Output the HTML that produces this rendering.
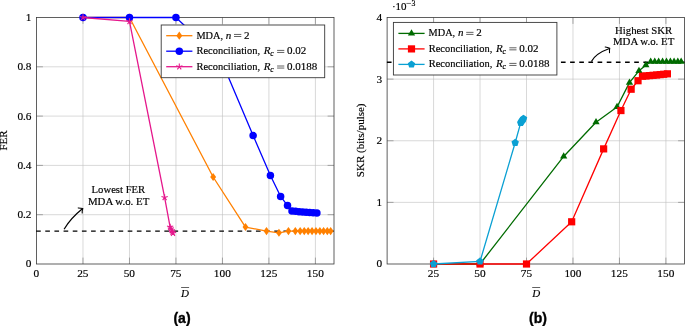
<!DOCTYPE html><html><head><meta charset="utf-8"><style>html,body{margin:0;padding:0;background:#fff;}svg{display:block;}text{font-family:"Liberation Serif", serif;font-size:11px;fill:#000;stroke:#000;stroke-width:0.18px;}.cap{font-family:"Liberation Sans", sans-serif;font-weight:bold;font-size:14px;stroke:#000;stroke-width:0.35px;}</style></head><body>
<svg width="685" height="326" viewBox="0 0 685 326">
<rect width="685" height="326" fill="#fff"/>
<line x1="82.98" y1="17.5" x2="82.98" y2="264" stroke="#bfbfbf" stroke-width="0.6"/>
<line x1="129.47" y1="17.5" x2="129.47" y2="264" stroke="#bfbfbf" stroke-width="0.6"/>
<line x1="175.95" y1="17.5" x2="175.95" y2="264" stroke="#bfbfbf" stroke-width="0.6"/>
<line x1="222.44" y1="17.5" x2="222.44" y2="264" stroke="#bfbfbf" stroke-width="0.6"/>
<line x1="268.92" y1="17.5" x2="268.92" y2="264" stroke="#bfbfbf" stroke-width="0.6"/>
<line x1="315.41" y1="17.5" x2="315.41" y2="264" stroke="#bfbfbf" stroke-width="0.6"/>
<line x1="36.5" y1="214.7" x2="334" y2="214.7" stroke="#bfbfbf" stroke-width="0.6"/>
<line x1="36.5" y1="165.4" x2="334" y2="165.4" stroke="#bfbfbf" stroke-width="0.6"/>
<line x1="36.5" y1="116.1" x2="334" y2="116.1" stroke="#bfbfbf" stroke-width="0.6"/>
<line x1="36.5" y1="66.8" x2="334" y2="66.8" stroke="#bfbfbf" stroke-width="0.6"/>
<line x1="82.98" y1="264" x2="82.98" y2="257.6" stroke="#777" stroke-width="0.6"/>
<line x1="82.98" y1="17.5" x2="82.98" y2="23.9" stroke="#777" stroke-width="0.6"/>
<line x1="129.47" y1="264" x2="129.47" y2="257.6" stroke="#777" stroke-width="0.6"/>
<line x1="129.47" y1="17.5" x2="129.47" y2="23.9" stroke="#777" stroke-width="0.6"/>
<line x1="175.95" y1="264" x2="175.95" y2="257.6" stroke="#777" stroke-width="0.6"/>
<line x1="175.95" y1="17.5" x2="175.95" y2="23.9" stroke="#777" stroke-width="0.6"/>
<line x1="222.44" y1="264" x2="222.44" y2="257.6" stroke="#777" stroke-width="0.6"/>
<line x1="222.44" y1="17.5" x2="222.44" y2="23.9" stroke="#777" stroke-width="0.6"/>
<line x1="268.92" y1="264" x2="268.92" y2="257.6" stroke="#777" stroke-width="0.6"/>
<line x1="268.92" y1="17.5" x2="268.92" y2="23.9" stroke="#777" stroke-width="0.6"/>
<line x1="315.41" y1="264" x2="315.41" y2="257.6" stroke="#777" stroke-width="0.6"/>
<line x1="315.41" y1="17.5" x2="315.41" y2="23.9" stroke="#777" stroke-width="0.6"/>
<line x1="36.5" y1="214.7" x2="42.9" y2="214.7" stroke="#777" stroke-width="0.6"/>
<line x1="334" y1="214.7" x2="327.6" y2="214.7" stroke="#777" stroke-width="0.6"/>
<line x1="36.5" y1="165.4" x2="42.9" y2="165.4" stroke="#777" stroke-width="0.6"/>
<line x1="334" y1="165.4" x2="327.6" y2="165.4" stroke="#777" stroke-width="0.6"/>
<line x1="36.5" y1="116.1" x2="42.9" y2="116.1" stroke="#777" stroke-width="0.6"/>
<line x1="334" y1="116.1" x2="327.6" y2="116.1" stroke="#777" stroke-width="0.6"/>
<line x1="36.5" y1="66.8" x2="42.9" y2="66.8" stroke="#777" stroke-width="0.6"/>
<line x1="334" y1="66.8" x2="327.6" y2="66.8" stroke="#777" stroke-width="0.6"/>
<rect x="36.5" y="17.5" width="297.5" height="246.5" fill="none" stroke="#383838" stroke-width="0.8"/>
<line x1="36.1" y1="231.1" x2="334" y2="231.1" stroke="#000" stroke-width="1.35" stroke-dasharray="4.65 4.51"/>
<path d="M64.1 229.2 Q70.6 218.3 82.4 208.8" fill="none" stroke="#000" stroke-width="1.25"/>
<path d="M78.2 207.9 Q81 208.1 82.9 208.4 Q82.1 210.4 82.2 213" fill="none" stroke="#000" stroke-width="1.05" stroke-linejoin="round" stroke-linecap="round"/>
<polyline points="82.98,17.5 129.47,17.5 213.14,176.99 245.49,227.03 266.5,231.07 278.96,232.77 288.45,231.09 295.32,231.09 300.16,231.09 304.25,231.09 308.15,231.09 312.06,231.09 315.96,231.09 319.87,231.09 323.59,231.09 327.31,231.09 330.65,231.09" fill="none" stroke="#ff8000" stroke-width="1.3" stroke-linejoin="round"/>
<path d="M82.98 13.4L85.93 17.5L82.98 21.6L80.03 17.5Z" fill="#ff8000"/>
<path d="M129.47 13.4L132.42 17.5L129.47 21.6L126.52 17.5Z" fill="#ff8000"/>
<path d="M213.14 172.89L216.09 176.99L213.14 181.09L210.19 176.99Z" fill="#ff8000"/>
<path d="M245.49 222.93L248.44 227.03L245.49 231.12L242.54 227.03Z" fill="#ff8000"/>
<path d="M266.5 226.97L269.45 231.07L266.5 235.17L263.55 231.07Z" fill="#ff8000"/>
<path d="M278.96 228.67L281.91 232.77L278.96 236.87L276.01 232.77Z" fill="#ff8000"/>
<path d="M288.45 226.99L291.4 231.09L288.45 235.19L285.5 231.09Z" fill="#ff8000"/>
<path d="M295.32 226.99L298.27 231.09L295.32 235.19L292.38 231.09Z" fill="#ff8000"/>
<path d="M300.16 226.99L303.11 231.09L300.16 235.19L297.21 231.09Z" fill="#ff8000"/>
<path d="M304.25 226.99L307.2 231.09L304.25 235.19L301.3 231.09Z" fill="#ff8000"/>
<path d="M308.15 226.99L311.1 231.09L308.15 235.19L305.2 231.09Z" fill="#ff8000"/>
<path d="M312.06 226.99L315.01 231.09L312.06 235.19L309.11 231.09Z" fill="#ff8000"/>
<path d="M315.96 226.99L318.91 231.09L315.96 235.19L313.01 231.09Z" fill="#ff8000"/>
<path d="M319.87 226.99L322.82 231.09L319.87 235.19L316.92 231.09Z" fill="#ff8000"/>
<path d="M323.59 226.99L326.54 231.09L323.59 235.19L320.64 231.09Z" fill="#ff8000"/>
<path d="M327.31 226.99L330.26 231.09L327.31 235.19L324.36 231.09Z" fill="#ff8000"/>
<path d="M330.65 226.99L333.6 231.09L330.65 235.19L327.7 231.09Z" fill="#ff8000"/>
<polyline points="82.98,17.5 129.47,17.5 175.95,17.5 221.14,59.9 253.12,135.57 270.41,175.51 280.64,196.46 287.52,205.58 291.98,211 295.51,211.37 299.04,211.74 302.58,211.99 306.11,212.24 309.64,212.48 313.18,212.73 316.89,213.02" fill="none" stroke="#0000ff" stroke-width="1.3" stroke-linejoin="round"/>
<circle cx="82.98" cy="17.5" r="3.75" fill="#0000ff"/>
<circle cx="129.47" cy="17.5" r="3.75" fill="#0000ff"/>
<circle cx="175.95" cy="17.5" r="3.75" fill="#0000ff"/>
<circle cx="221.14" cy="59.9" r="3.75" fill="#0000ff"/>
<circle cx="253.12" cy="135.57" r="3.75" fill="#0000ff"/>
<circle cx="270.41" cy="175.51" r="3.75" fill="#0000ff"/>
<circle cx="280.64" cy="196.46" r="3.75" fill="#0000ff"/>
<circle cx="287.52" cy="205.58" r="3.75" fill="#0000ff"/>
<circle cx="291.98" cy="211" r="3.75" fill="#0000ff"/>
<circle cx="295.51" cy="211.37" r="3.75" fill="#0000ff"/>
<circle cx="299.04" cy="211.74" r="3.75" fill="#0000ff"/>
<circle cx="302.58" cy="211.99" r="3.75" fill="#0000ff"/>
<circle cx="306.11" cy="212.24" r="3.75" fill="#0000ff"/>
<circle cx="309.64" cy="212.48" r="3.75" fill="#0000ff"/>
<circle cx="313.18" cy="212.73" r="3.75" fill="#0000ff"/>
<circle cx="316.89" cy="213.02" r="3.75" fill="#0000ff"/>
<polyline points="82.98,17.5 129.47,21.44 164.61,197.44 170.13,227.03 170.93,228.75 171.68,230.48 172.42,231.95 172.98,233.19" fill="none" stroke="#e5188c" stroke-width="1.3" stroke-linejoin="round"/>
<path d="M82.98 17.5L82.98 14.2M82.98 17.5L79.85 16.48M82.98 17.5L81.04 20.17M82.98 17.5L84.92 20.17M82.98 17.5L86.12 16.48" stroke="#e5188c" stroke-width="1.1" fill="none"/>
<path d="M129.47 21.44L129.47 18.14M129.47 21.44L126.33 20.42M129.47 21.44L127.53 24.11M129.47 21.44L131.41 24.11M129.47 21.44L132.61 20.42" stroke="#e5188c" stroke-width="1.1" fill="none"/>
<path d="M164.61 197.44L164.61 194.14M164.61 197.44L161.47 196.43M164.61 197.44L162.67 200.11M164.61 197.44L166.55 200.11M164.61 197.44L167.75 196.43" stroke="#e5188c" stroke-width="1.1" fill="none"/>
<path d="M170.13 227.03L170.13 223.72M170.13 227.03L166.99 226.01M170.13 227.03L168.19 229.69M170.13 227.03L172.07 229.69M170.13 227.03L173.27 226.01" stroke="#e5188c" stroke-width="1.1" fill="none"/>
<path d="M170.93 228.75L170.93 225.45M170.93 228.75L167.79 227.73M170.93 228.75L168.99 231.42M170.93 228.75L172.87 231.42M170.93 228.75L174.07 227.73" stroke="#e5188c" stroke-width="1.1" fill="none"/>
<path d="M171.68 230.48L171.68 227.18M171.68 230.48L168.54 229.46M171.68 230.48L169.74 233.15M171.68 230.48L173.62 233.15M171.68 230.48L174.82 229.46" stroke="#e5188c" stroke-width="1.1" fill="none"/>
<path d="M172.42 231.95L172.42 228.65M172.42 231.95L169.28 230.94M172.42 231.95L170.48 234.62M172.42 231.95L174.36 234.62M172.42 231.95L175.56 230.94" stroke="#e5188c" stroke-width="1.1" fill="none"/>
<path d="M172.98 233.19L172.98 229.89M172.98 233.19L169.84 232.17M172.98 233.19L171.04 235.86M172.98 233.19L174.92 235.86M172.98 233.19L176.12 232.17" stroke="#e5188c" stroke-width="1.1" fill="none"/>
<rect x="161.2" y="25" width="163.5" height="52.7" fill="#fff" stroke="#383838" stroke-width="0.9"/>
<line x1="166.2" y1="35.7" x2="192.4" y2="35.7" stroke="#ff8000" stroke-width="1.3"/>
<path d="M179.3 31.6L182.25 35.7L179.3 39.8L176.35 35.7Z" fill="#ff8000"/>
<line x1="234" y1="34.45" x2="241.3" y2="34.45" stroke="#000" stroke-width="0.62"/>
<line x1="234" y1="36.5" x2="241.3" y2="36.5" stroke="#000" stroke-width="0.62"/>
<line x1="166.2" y1="51.2" x2="192.4" y2="51.2" stroke="#0000ff" stroke-width="1.3"/>
<circle cx="179.3" cy="51.2" r="3.75" fill="#0000ff"/>
<line x1="277.1" y1="50.4" x2="284.3" y2="50.4" stroke="#000" stroke-width="0.62"/>
<line x1="277.1" y1="52.45" x2="284.3" y2="52.45" stroke="#000" stroke-width="0.62"/>
<line x1="166.2" y1="66.7" x2="192.4" y2="66.7" stroke="#e5188c" stroke-width="1.3"/>
<path d="M179.3 66.7L179.3 63.4M179.3 66.7L176.16 65.68M179.3 66.7L177.36 69.37M179.3 66.7L181.24 69.37M179.3 66.7L182.44 65.68" stroke="#e5188c" stroke-width="1.1" fill="none"/>
<line x1="277.1" y1="66" x2="284.3" y2="66" stroke="#000" stroke-width="0.62"/>
<line x1="277.1" y1="68.05" x2="284.3" y2="68.05" stroke="#000" stroke-width="0.62"/>
<line x1="181.1" y1="287.5" x2="189.1" y2="287.5" stroke="#000" stroke-width="0.62"/>
<line x1="433.57" y1="17.5" x2="433.57" y2="264" stroke="#bfbfbf" stroke-width="0.6"/>
<line x1="480.04" y1="17.5" x2="480.04" y2="264" stroke="#bfbfbf" stroke-width="0.6"/>
<line x1="526.51" y1="17.5" x2="526.51" y2="264" stroke="#bfbfbf" stroke-width="0.6"/>
<line x1="572.98" y1="17.5" x2="572.98" y2="264" stroke="#bfbfbf" stroke-width="0.6"/>
<line x1="619.44" y1="17.5" x2="619.44" y2="264" stroke="#bfbfbf" stroke-width="0.6"/>
<line x1="665.91" y1="17.5" x2="665.91" y2="264" stroke="#bfbfbf" stroke-width="0.6"/>
<line x1="387.1" y1="202.38" x2="684.5" y2="202.38" stroke="#bfbfbf" stroke-width="0.6"/>
<line x1="387.1" y1="140.75" x2="684.5" y2="140.75" stroke="#bfbfbf" stroke-width="0.6"/>
<line x1="387.1" y1="79.12" x2="684.5" y2="79.12" stroke="#bfbfbf" stroke-width="0.6"/>
<line x1="433.57" y1="264" x2="433.57" y2="257.6" stroke="#777" stroke-width="0.6"/>
<line x1="433.57" y1="17.5" x2="433.57" y2="23.9" stroke="#777" stroke-width="0.6"/>
<line x1="480.04" y1="264" x2="480.04" y2="257.6" stroke="#777" stroke-width="0.6"/>
<line x1="480.04" y1="17.5" x2="480.04" y2="23.9" stroke="#777" stroke-width="0.6"/>
<line x1="526.51" y1="264" x2="526.51" y2="257.6" stroke="#777" stroke-width="0.6"/>
<line x1="526.51" y1="17.5" x2="526.51" y2="23.9" stroke="#777" stroke-width="0.6"/>
<line x1="572.98" y1="264" x2="572.98" y2="257.6" stroke="#777" stroke-width="0.6"/>
<line x1="572.98" y1="17.5" x2="572.98" y2="23.9" stroke="#777" stroke-width="0.6"/>
<line x1="619.44" y1="264" x2="619.44" y2="257.6" stroke="#777" stroke-width="0.6"/>
<line x1="619.44" y1="17.5" x2="619.44" y2="23.9" stroke="#777" stroke-width="0.6"/>
<line x1="665.91" y1="264" x2="665.91" y2="257.6" stroke="#777" stroke-width="0.6"/>
<line x1="665.91" y1="17.5" x2="665.91" y2="23.9" stroke="#777" stroke-width="0.6"/>
<line x1="387.1" y1="202.38" x2="393.5" y2="202.38" stroke="#777" stroke-width="0.6"/>
<line x1="684.5" y1="202.38" x2="678.1" y2="202.38" stroke="#777" stroke-width="0.6"/>
<line x1="387.1" y1="140.75" x2="393.5" y2="140.75" stroke="#777" stroke-width="0.6"/>
<line x1="684.5" y1="140.75" x2="678.1" y2="140.75" stroke="#777" stroke-width="0.6"/>
<line x1="387.1" y1="79.12" x2="393.5" y2="79.12" stroke="#777" stroke-width="0.6"/>
<line x1="684.5" y1="79.12" x2="678.1" y2="79.12" stroke="#777" stroke-width="0.6"/>
<rect x="387.1" y="17.5" width="297.4" height="246.5" fill="none" stroke="#383838" stroke-width="0.8"/>
<line x1="386.9" y1="62.2" x2="684.5" y2="62.2" stroke="#000" stroke-width="1.35" stroke-dasharray="4.65 4.51"/>
<path d="M591.4 61.5 Q595.5 53.5 609.4 48.5" fill="none" stroke="#000" stroke-width="1.25"/>
<path d="M605.2 47 Q607.6 47.6 609.8 48.2 Q609.2 50.4 609.5 52.8" fill="none" stroke="#000" stroke-width="1.05" stroke-linejoin="round" stroke-linecap="round"/>
<polyline points="433.57,264 480.04,264 563.68,156.46 596.02,122.26 617.03,106.98 629.48,82.64 638.96,70.87 645.84,65.26 650.67,61.75 654.76,61.75 658.66,61.75 662.57,61.75 666.47,61.75 670.37,61.75 674.09,61.75 677.81,61.75 681.15,61.75" fill="none" stroke="#006b00" stroke-width="1.3" stroke-linejoin="round"/>
<polygon points="433.57,259.8 429.93,266.1 437.21,266.1" fill="#006b00"/>
<polygon points="480.04,259.8 476.4,266.1 483.67,266.1" fill="#006b00"/>
<polygon points="563.68,152.26 560.04,158.56 567.32,158.56" fill="#006b00"/>
<polygon points="596.02,118.06 592.39,124.36 599.66,124.36" fill="#006b00"/>
<polygon points="617.03,102.78 613.39,109.08 620.66,109.08" fill="#006b00"/>
<polygon points="629.48,78.44 625.84,84.74 633.12,84.74" fill="#006b00"/>
<polygon points="638.96,66.67 635.32,72.97 642.6,72.97" fill="#006b00"/>
<polygon points="645.84,61.06 642.2,67.36 649.48,67.36" fill="#006b00"/>
<polygon points="650.67,57.55 647.03,63.85 654.31,63.85" fill="#006b00"/>
<polygon points="654.76,57.55 651.12,63.85 658.4,63.85" fill="#006b00"/>
<polygon points="658.66,57.55 655.03,63.85 662.3,63.85" fill="#006b00"/>
<polygon points="662.57,57.55 658.93,63.85 666.2,63.85" fill="#006b00"/>
<polygon points="666.47,57.55 662.83,63.85 670.11,63.85" fill="#006b00"/>
<polygon points="670.37,57.55 666.74,63.85 674.01,63.85" fill="#006b00"/>
<polygon points="674.09,57.55 670.45,63.85 677.73,63.85" fill="#006b00"/>
<polygon points="677.81,57.55 674.17,63.85 681.45,63.85" fill="#006b00"/>
<polygon points="681.15,57.55 677.52,63.85 684.79,63.85" fill="#006b00"/>
<polyline points="433.57,264 480.04,264 526.51,264 571.67,221.79 603.64,148.88 620.93,110.55 631.15,89.23 638.03,80.73 642.49,76.23 646.02,75.92 649.56,75.61 653.09,75.3 656.62,75 660.15,74.63 663.68,74.26 667.4,73.83" fill="none" stroke="#ff0000" stroke-width="1.3" stroke-linejoin="round"/>
<rect x="429.97" y="260.4" width="7.2" height="7.2" fill="#ff0000"/>
<rect x="476.44" y="260.4" width="7.2" height="7.2" fill="#ff0000"/>
<rect x="522.91" y="260.4" width="7.2" height="7.2" fill="#ff0000"/>
<rect x="568.07" y="218.19" width="7.2" height="7.2" fill="#ff0000"/>
<rect x="600.04" y="145.28" width="7.2" height="7.2" fill="#ff0000"/>
<rect x="617.33" y="106.95" width="7.2" height="7.2" fill="#ff0000"/>
<rect x="627.55" y="85.63" width="7.2" height="7.2" fill="#ff0000"/>
<rect x="634.43" y="77.13" width="7.2" height="7.2" fill="#ff0000"/>
<rect x="638.89" y="72.63" width="7.2" height="7.2" fill="#ff0000"/>
<rect x="642.42" y="72.32" width="7.2" height="7.2" fill="#ff0000"/>
<rect x="645.96" y="72.01" width="7.2" height="7.2" fill="#ff0000"/>
<rect x="649.49" y="71.7" width="7.2" height="7.2" fill="#ff0000"/>
<rect x="653.02" y="71.4" width="7.2" height="7.2" fill="#ff0000"/>
<rect x="656.55" y="71.03" width="7.2" height="7.2" fill="#ff0000"/>
<rect x="660.08" y="70.66" width="7.2" height="7.2" fill="#ff0000"/>
<rect x="663.8" y="70.23" width="7.2" height="7.2" fill="#ff0000"/>
<polyline points="433.57,264 480.04,261.41 515.17,142.72 520.69,122.88 521.49,121.65 522.23,120.41 522.97,119.49 523.53,118.56" fill="none" stroke="#0aa0d3" stroke-width="1.3" stroke-linejoin="round"/>
<polygon points="433.57,260.1 429.86,262.79 431.28,267.16 435.86,267.16 437.28,262.79" fill="#0aa0d3"/>
<polygon points="480.04,257.51 476.33,260.21 477.75,264.57 482.33,264.57 483.75,260.21" fill="#0aa0d3"/>
<polygon points="515.17,138.82 511.46,141.52 512.88,145.88 517.46,145.88 518.88,141.52" fill="#0aa0d3"/>
<polygon points="520.69,118.98 516.98,121.67 518.4,126.03 522.98,126.03 524.4,121.67" fill="#0aa0d3"/>
<polygon points="521.49,117.75 517.78,120.44 519.2,124.8 523.78,124.8 525.2,120.44" fill="#0aa0d3"/>
<polygon points="522.23,116.51 518.52,119.21 519.94,123.57 524.52,123.57 525.94,119.21" fill="#0aa0d3"/>
<polygon points="522.97,115.59 519.27,118.28 520.68,122.64 525.27,122.64 526.68,118.28" fill="#0aa0d3"/>
<polygon points="523.53,114.66 519.82,117.36 521.24,121.72 525.82,121.72 527.24,117.36" fill="#0aa0d3"/>
<rect x="393.4" y="22.4" width="163.5" height="52.6" fill="#fff" stroke="#383838" stroke-width="0.9"/>
<line x1="398.4" y1="33.4" x2="424.6" y2="33.4" stroke="#006b00" stroke-width="1.3"/>
<polygon points="411.5,29.2 407.86,35.5 415.14,35.5" fill="#006b00"/>
<line x1="466.2" y1="32.35" x2="473.5" y2="32.35" stroke="#000" stroke-width="0.62"/>
<line x1="466.2" y1="34.4" x2="473.5" y2="34.4" stroke="#000" stroke-width="0.62"/>
<line x1="398.4" y1="48.9" x2="424.6" y2="48.9" stroke="#ff0000" stroke-width="1.3"/>
<rect x="407.9" y="45.3" width="7.2" height="7.2" fill="#ff0000"/>
<line x1="509.3" y1="47.8" x2="516.5" y2="47.8" stroke="#000" stroke-width="0.62"/>
<line x1="509.3" y1="49.85" x2="516.5" y2="49.85" stroke="#000" stroke-width="0.62"/>
<line x1="398.4" y1="64.4" x2="424.6" y2="64.4" stroke="#0aa0d3" stroke-width="1.3"/>
<polygon points="411.5,60.5 407.79,63.19 409.21,67.56 413.79,67.56 415.21,63.19" fill="#0aa0d3"/>
<line x1="509.3" y1="63.4" x2="516.5" y2="63.4" stroke="#000" stroke-width="0.62"/>
<line x1="509.3" y1="65.45" x2="516.5" y2="65.45" stroke="#000" stroke-width="0.62"/>
<line x1="406.4" y1="3.45" x2="411" y2="3.45" stroke="#000" stroke-width="0.55"/>
<line x1="532.2" y1="287.5" x2="540.2" y2="287.5" stroke="#000" stroke-width="0.62"/>
<g style="will-change:transform"><text x="31.5" y="267.4" text-anchor="end" style="font-size:11.3px">0</text><text x="31.5" y="218.1" text-anchor="end" style="font-size:11.3px">0.2</text><text x="31.5" y="168.8" text-anchor="end" style="font-size:11.3px">0.4</text><text x="31.5" y="119.5" text-anchor="end" style="font-size:11.3px">0.6</text><text x="31.5" y="70.2" text-anchor="end" style="font-size:11.3px">0.8</text><text x="31.5" y="20.9" text-anchor="end" style="font-size:11.3px">1</text><text x="36.4" y="276.8" text-anchor="middle" style="font-size:11.3px">0</text><text x="82.88" y="276.8" text-anchor="middle" style="font-size:11.3px">25</text><text x="129.37" y="276.8" text-anchor="middle" style="font-size:11.3px">50</text><text x="175.85" y="276.8" text-anchor="middle" style="font-size:11.3px">75</text><text x="222.34" y="276.8" text-anchor="middle" style="font-size:11.3px">100</text><text x="268.82" y="276.8" text-anchor="middle" style="font-size:11.3px">125</text><text x="315.31" y="276.8" text-anchor="middle" style="font-size:11.3px">150</text><text x="118.4" y="192.9" text-anchor="middle" textLength="53.6" lengthAdjust="spacingAndGlyphs">Lowest FER</text><text x="118.6" y="204.8" text-anchor="middle" textLength="61.4" lengthAdjust="spacingAndGlyphs">MDA w.o. ET</text><text x="196.4" y="38.7" textLength="26.6" lengthAdjust="spacingAndGlyphs">MDA,</text><text x="225.8" y="38.7" font-style="italic">n</text><text x="244.1" y="38.7">2</text><text x="196.5" y="54.2" textLength="63.6" lengthAdjust="spacingAndGlyphs">Reconciliation,</text><text x="263.7" y="54.2" font-style="italic">R</text><text x="270.2" y="56" style="font-style:italic;font-size:7.8px">c</text><text x="287.1" y="54.2">0.02</text><text x="196.5" y="69.7" textLength="63.6" lengthAdjust="spacingAndGlyphs">Reconciliation,</text><text x="263.7" y="69.7" font-style="italic">R</text><text x="270.2" y="71.5" style="font-style:italic;font-size:7.8px">c</text><text x="287.1" y="69.7">0.0188</text><text transform="translate(7.4,140.5) rotate(-90)" text-anchor="middle">FER</text><text x="185.1" y="296.9" text-anchor="middle" font-style="italic">D</text><text class="cap" x="182" y="322.7" text-anchor="middle">(a)</text><text x="382.1" y="267.4" text-anchor="end" style="font-size:11.3px">0</text><text x="382.1" y="205.78" text-anchor="end" style="font-size:11.3px">1</text><text x="382.1" y="144.15" text-anchor="end" style="font-size:11.3px">2</text><text x="382.1" y="82.53" text-anchor="end" style="font-size:11.3px">3</text><text x="382.1" y="20.9" text-anchor="end" style="font-size:11.3px">4</text><text x="433.47" y="276.8" text-anchor="middle" style="font-size:11.3px">25</text><text x="479.94" y="276.8" text-anchor="middle" style="font-size:11.3px">50</text><text x="526.41" y="276.8" text-anchor="middle" style="font-size:11.3px">75</text><text x="572.88" y="276.8" text-anchor="middle" style="font-size:11.3px">100</text><text x="619.34" y="276.8" text-anchor="middle" style="font-size:11.3px">125</text><text x="665.81" y="276.8" text-anchor="middle" style="font-size:11.3px">150</text><text x="643.6" y="33.6" text-anchor="middle" textLength="57" lengthAdjust="spacingAndGlyphs">Highest SKR</text><text x="643.6" y="45.4" text-anchor="middle" textLength="61.4" lengthAdjust="spacingAndGlyphs">MDA w.o. ET</text><text x="428.6" y="36.4" textLength="26.6" lengthAdjust="spacingAndGlyphs">MDA,</text><text x="458" y="36.4" font-style="italic">n</text><text x="476.3" y="36.4">2</text><text x="428.7" y="51.9" textLength="63.6" lengthAdjust="spacingAndGlyphs">Reconciliation,</text><text x="495.9" y="51.9" font-style="italic">R</text><text x="502.4" y="53.7" style="font-style:italic;font-size:7.8px">c</text><text x="519.3" y="51.9">0.02</text><text x="428.7" y="67.4" textLength="63.6" lengthAdjust="spacingAndGlyphs">Reconciliation,</text><text x="495.9" y="67.4" font-style="italic">R</text><text x="502.4" y="69.2" style="font-style:italic;font-size:7.8px">c</text><text x="519.3" y="67.4">0.0188</text><text x="391.9" y="9.8">&#183;10</text><text x="411.5" y="5.75" style="font-size:7.8px">3</text><text transform="translate(364.3,140.3) rotate(-90)" text-anchor="middle">SKR (bits/pulse)</text><text x="536.2" y="296.9" text-anchor="middle" font-style="italic">D</text><text class="cap" x="538" y="322.7" text-anchor="middle">(b)</text></g>
</svg></body></html>
